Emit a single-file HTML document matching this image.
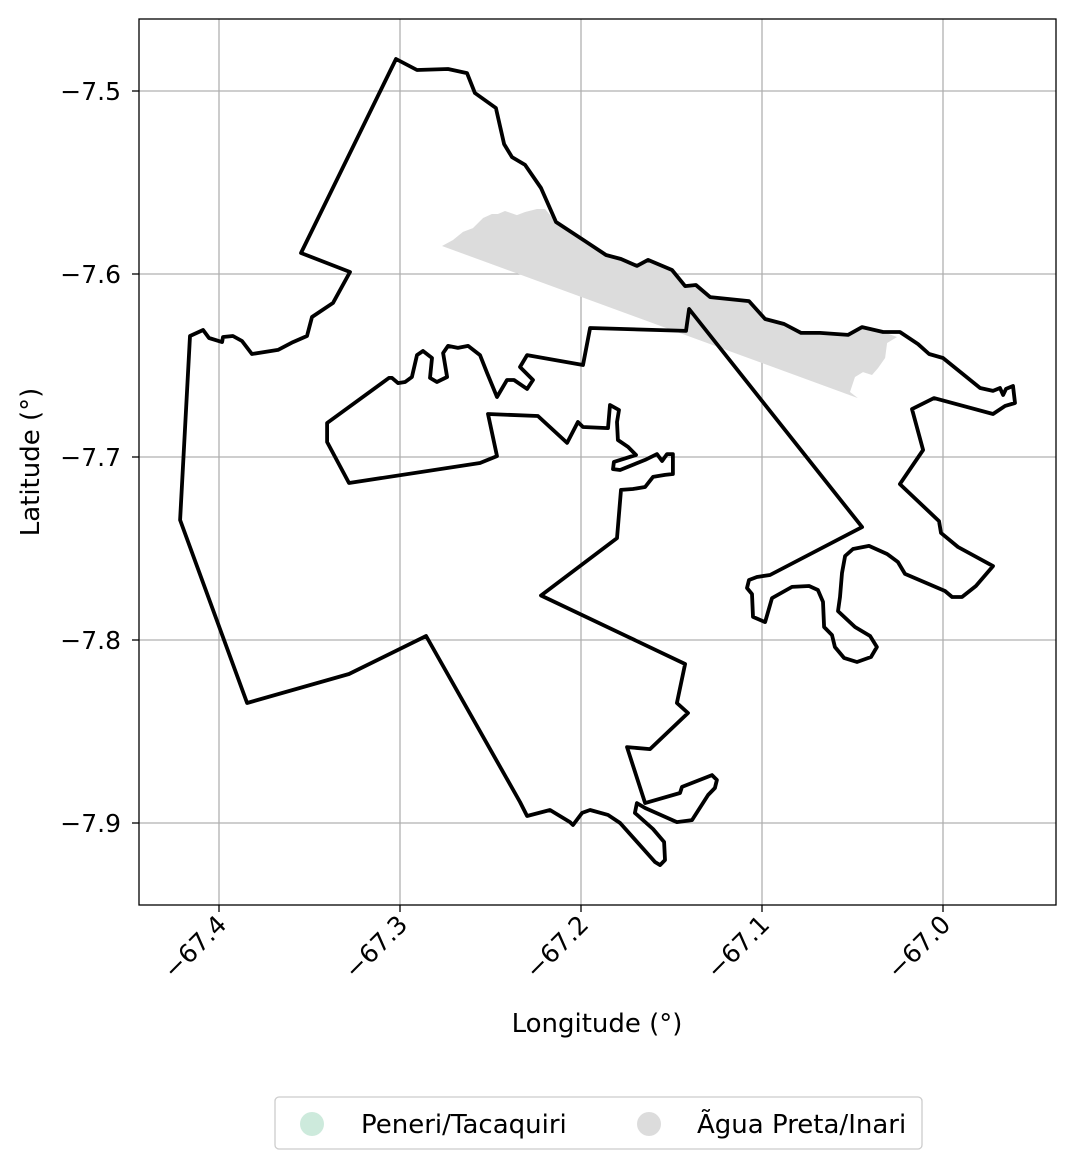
<!DOCTYPE html>
<html><head><meta charset="utf-8"><style>
body{margin:0;background:#fff;}
svg{display:block;font-family:"DejaVu Sans","Liberation Sans",sans-serif;}
</style></head><body>
<svg id="chart" width="1075" height="1168" viewBox="0 0 1075 1168">
<g id="grid"></g>
<g id="fills"></g>
<g id="lines"></g>
<rect x="139" y="19" width="917" height="886" fill="none" stroke="#000" stroke-width="1.3"/>
<g id="ticks"></g>
<text x="597" y="1032" font-size="26" text-anchor="middle">Longitude (°)</text>
<text x="39" y="462" font-size="26" text-anchor="middle" transform="rotate(-90 39 462)">Latitude (°)</text>
<g>
<rect x="275" y="1097" width="647" height="52" rx="4" fill="#fff" stroke="#ccc" stroke-width="1.3"/>
<circle cx="312" cy="1124" r="12" fill="#cdeadc"/>
<text x="361" y="1133" font-size="26">Peneri/Tacaquiri</text>
<circle cx="649" cy="1124" r="12" fill="#dcdcdc"/>
<text x="697" y="1133" font-size="26">Ãgua Preta/Inari</text>
</g>
</svg>
<script>
const xTicks = [-67.4, -67.3, -67.2, -67.1, -67.0];
const xTickLabels = ["\u221267.4", "\u221267.3", "\u221267.2", "\u221267.1", "\u221267.0"];
const yTicks = [-7.5, -7.6, -7.7, -7.8, -7.9];
const yTickLabels = ["\u22127.5", "\u22127.6", "\u22127.7", "\u22127.8", "\u22127.9"];
const boundaryLon = [-67.3022,-67.2906,-67.2735,-67.2630,-67.2586,-67.2470,-67.2425,-67.2381,-67.2309,-67.2221,-67.2138,-67.1978,-67.1862,-67.1779,-67.1691,-67.1630,-67.1497,-67.1425,-67.1365,-67.1287,-67.1072,-67.0983,-67.0878,-67.0784,-67.0680,-67.0525,-67.0447,-67.0331,-67.0238,-67.0138,-67.0077,-67.0000,-66.9795,-66.9724,-66.9685,-66.9668,-66.9652,-66.9613,-66.9602,-66.9657,-66.9724,-67.0050,-67.0171,-67.0110,-67.0238,-67.0022,-67.0011,-66.9917,-66.9724,-66.9818,-66.9895,-66.9950,-66.9989,-67.0210,-67.0249,-67.0309,-67.0409,-67.0497,-67.0541,-67.0558,-67.0569,-67.0580,-67.0486,-67.0403,-67.0365,-67.0398,-67.0475,-67.0547,-67.0597,-67.0613,-67.0657,-67.0663,-67.0691,-67.0740,-67.0834,-67.0945,-67.0983,-67.1050,-67.1055,-67.1083,-67.1072,-67.1028,-67.0956,-67.0447,-67.1403,-67.1420,-67.1950,-67.1989,-67.2298,-67.2337,-67.2265,-67.2298,-67.2370,-67.2409,-67.2464,-67.2519,-67.2558,-67.2624,-67.2680,-67.2735,-67.2762,-67.2740,-67.2796,-67.2834,-67.2823,-67.2873,-67.2906,-67.2934,-67.2972,-67.3011,-67.3044,-67.3061,-67.3403,-67.3403,-67.3282,-67.2558,-67.2464,-67.2514,-67.2238,-67.2077,-67.2017,-67.1989,-67.1851,-67.1840,-67.1790,-67.1801,-67.1796,-67.1740,-67.1696,-67.1818,-67.1823,-67.1784,-67.1646,-67.1580,-67.1552,-67.1525,-67.1492,-67.1492,-67.1536,-67.1602,-67.1646,-67.1713,-67.1779,-67.1801,-67.2221,-67.1425,-67.1470,-67.1409,-67.1619,-67.1746,-67.1646,-67.1453,-67.1442,-67.1276,-67.1249,-67.1260,-67.1298,-67.1387,-67.1470,-67.1646,-67.1691,-67.1702,-67.1602,-67.1541,-67.1536,-67.1563,-67.1591,-67.1784,-67.1851,-67.1950,-67.1994,-67.2044,-67.2061,-67.2171,-67.2298,-67.2337,-67.2856,-67.3282,-67.3845,-67.4215,-67.4160,-67.4088,-67.4055,-67.3983,-67.3978,-67.3923,-67.3873,-67.3818,-67.3674,-67.3591,-67.3514,-67.3486,-67.3370,-67.3276,-67.3547];
const boundaryLat = [-7.4825,-7.4885,-7.4880,-7.4902,-7.5011,-7.5093,-7.5290,-7.5361,-7.5404,-7.5530,-7.5716,-7.5820,-7.5896,-7.5918,-7.5956,-7.5923,-7.5978,-7.6066,-7.6060,-7.6126,-7.6148,-7.6246,-7.6273,-7.6322,-7.6322,-7.6333,-7.6290,-7.6317,-7.6317,-7.6383,-7.6437,-7.6459,-7.6623,-7.6639,-7.6623,-7.6661,-7.6628,-7.6612,-7.6705,-7.6721,-7.6765,-7.6678,-7.6738,-7.6962,-7.7148,-7.7350,-7.7415,-7.7492,-7.7596,-7.7705,-7.7765,-7.7765,-7.7732,-7.7639,-7.7574,-7.7530,-7.7486,-7.7503,-7.7541,-7.7634,-7.7765,-7.7842,-7.7929,-7.7978,-7.8038,-7.8093,-7.8120,-7.8098,-7.8038,-7.7973,-7.7929,-7.7792,-7.7727,-7.7705,-7.7710,-7.7771,-7.7902,-7.7874,-7.7749,-7.7716,-7.7672,-7.7656,-7.7645,-7.7383,-7.6191,-7.6311,-7.6295,-7.6497,-7.6443,-7.6508,-7.6579,-7.6628,-7.6579,-7.6579,-7.6672,-7.6541,-7.6443,-7.6393,-7.6404,-7.6393,-7.6432,-7.6563,-7.6590,-7.6568,-7.6459,-7.6421,-7.6443,-7.6563,-7.6590,-7.6596,-7.6568,-7.6568,-7.6814,-7.6918,-7.7142,-7.7033,-7.6995,-7.6765,-7.6776,-7.6923,-7.6809,-7.6836,-7.6842,-7.6716,-7.6743,-7.6809,-7.6907,-7.6945,-7.6989,-7.7027,-7.7066,-7.7071,-7.7016,-7.6984,-7.7022,-7.6984,-7.6984,-7.7093,-7.7098,-7.7109,-7.7164,-7.7175,-7.7180,-7.7443,-7.7757,-7.8131,-7.8344,-7.8399,-7.8596,-7.8585,-7.8891,-7.8836,-7.8803,-7.8738,-7.8765,-7.8809,-7.8847,-7.8984,-7.8995,-7.8918,-7.8891,-7.8945,-7.9033,-7.9104,-7.9202,-7.9230,-7.9213,-7.9000,-7.8956,-7.8929,-7.8945,-7.9011,-7.8995,-7.8929,-7.8962,-7.8885,-7.7978,-7.8186,-7.8344,-7.7344,-7.6339,-7.6306,-7.6350,-7.6372,-7.6344,-7.6339,-7.6366,-7.6437,-7.6415,-7.6372,-7.6339,-7.6235,-7.6158,-7.5989,-7.5885];
const inariLon = [-67.2768,-67.2707,-67.2652,-67.2597,-67.2541,-67.2492,-67.2459,-67.2420,-67.2354,-67.2309,-67.2243,-67.2199,-67.2138,-67.1978,-67.1862,-67.1779,-67.1691,-67.1630,-67.1497,-67.1425,-67.1365,-67.1287,-67.1072,-67.0983,-67.0878,-67.0784,-67.0680,-67.0525,-67.0447,-67.0331,-67.0254,-67.0309,-67.0320,-67.0359,-67.0392,-67.0442,-67.0486,-67.0514,-67.0470];
const inariLat = [-7.5847,-7.5814,-7.5770,-7.5749,-7.5694,-7.5672,-7.5672,-7.5656,-7.5678,-7.5661,-7.5645,-7.5645,-7.5716,-7.5820,-7.5896,-7.5918,-7.5956,-7.5923,-7.5978,-7.6066,-7.6060,-7.6126,-7.6148,-7.6246,-7.6273,-7.6322,-7.6322,-7.6333,-7.6290,-7.6317,-7.6344,-7.6377,-7.6459,-7.6514,-7.6552,-7.6536,-7.6563,-7.6645,-7.6678];

const NS = "http://www.w3.org/2000/svg";
function xs(lon){ return 219 + (lon + 67.4) * 1810; }
function ys(lat){ return 91 + (-7.5 - lat) * 1830; }
function mk(tag, attrs, parent){ const e=document.createElementNS(NS,tag); for(const k in attrs) e.setAttribute(k, attrs[k]); parent.appendChild(e); return e; }
function pts(lons, lats){ return lons.map((v,i)=>xs(v).toFixed(1)+","+ys(lats[i]).toFixed(1)).join(" "); }

const grid=document.getElementById("grid"), ticks=document.getElementById("ticks");
xTicks.forEach((t,i)=>{
  const x=xs(t);
  const g=mk("line",{x1:x,x2:x,y1:19,y2:905,stroke:"#b0b0b0","stroke-width":1.3},grid);
  
  
  const tk=mk("line",{x1:x,x2:x,y1:905,y2:912,stroke:"#000","stroke-width":1.3},ticks);
  
  
  const tx=mk("text",{x:x+9,y:926,"font-size":25,"text-anchor":"end",transform:`rotate(-45 ${x+9} 926)`},ticks);
  tx.textContent=xTickLabels[i];
  
  
});
yTicks.forEach((t,i)=>{
  const y=ys(t);
  const g=mk("line",{x1:139,x2:1056,y1:y,y2:y,stroke:"#b0b0b0","stroke-width":1.3},grid);
  
  
  const tk=mk("line",{x1:132,x2:139,y1:y,y2:y,stroke:"#000","stroke-width":1.3},ticks);
  
  
  const tx=mk("text",{x:121,y:y+9,"font-size":25,"text-anchor":"end"},ticks);
  tx.textContent=yTickLabels[i];
  
  
});
const fill=mk("polygon",{points:pts(inariLon,inariLat),fill:"#dcdcdc",stroke:"none"},document.getElementById("fills"));


const bd=mk("polygon",{points:pts(boundaryLon,boundaryLat),fill:"none",stroke:"#000","stroke-width":3.8,"stroke-linejoin":"round"},document.getElementById("lines"));


</script>
</body></html>
